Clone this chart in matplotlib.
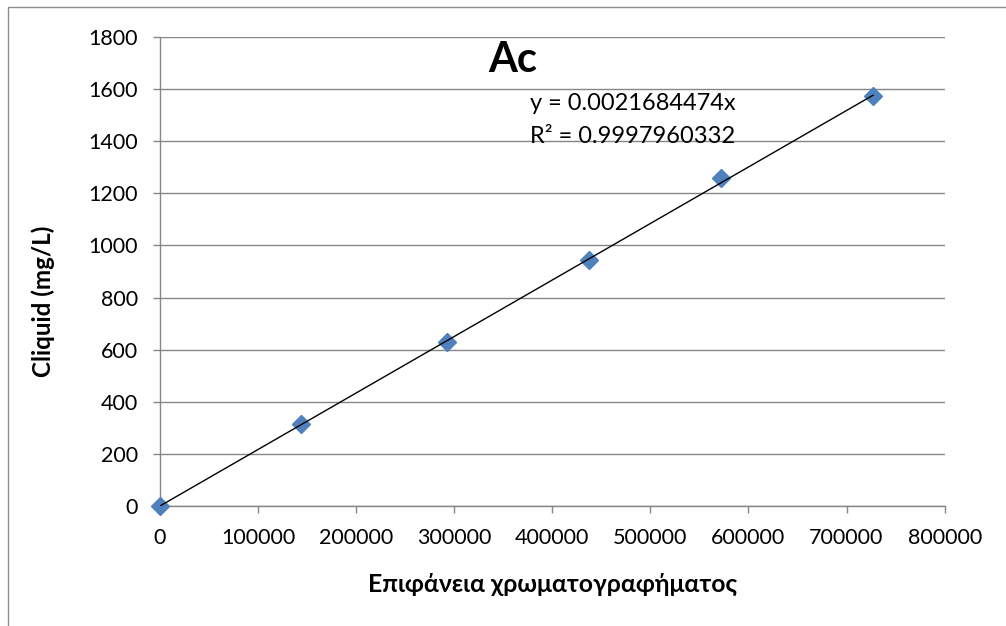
import matplotlib
matplotlib.use('Agg')
import matplotlib.pyplot as plt
from matplotlib.patches import Rectangle

# calibration points
area = [0, 144000, 293000, 437000, 572000, 727000]
conc = [0, 315, 630, 945, 1260, 1575]
slope = 0.0021684474
r2_text = "0.9997960332"

plt.rcParams['font.family'] = ['Lato', 'DejaVu Sans']

fig = plt.figure(figsize=(10.06, 6.26), dpi=100)
ax = fig.add_axes([0.159, 0.1917, 0.780, 0.7492])

# outer chart border (only left/top visible in the original)
fig.patches.append(Rectangle((0.008, -0.1), 1.2, 1.089, transform=fig.transFigure,
                             fill=False, edgecolor='#8c8c8c', linewidth=1.0))

ax.plot(area, conc, linestyle='none', marker='D', markersize=9.5,
        color='#4F81BD', zorder=3, clip_on=False)
fit_x = [0, max(area)]
ax.plot(fit_x, [slope * v for v in fit_x], color='black', linewidth=1.0, zorder=4)

ax.set_xlim(0, 800000)
ax.set_ylim(0, 1800)
ax.set_xticks(range(0, 800001, 100000))
ax.set_yticks(range(0, 1801, 200))
ax.tick_params(axis='both', labelsize=15.5, colors='#868686', labelcolor='black',
               length=5, width=1.0)
ax.tick_params(axis='x', pad=11)
ax.tick_params(axis='y', pad=11)

ax.grid(axis='y', color='#868686', linewidth=1.0)
ax.set_axisbelow(True)
for side in ['top', 'right']:
    ax.spines[side].set_visible(False)
for side in ['left', 'bottom']:
    ax.spines[side].set_color('#868686')
    ax.spines[side].set_linewidth(1.0)

ax.set_xlabel("Επιφάνεια χρωματογραφήματος", fontsize=17.8, fontweight='bold')
ax.set_ylabel("Cliquid (mg/L)", fontsize=17.4, fontweight='bold')
ax.xaxis.set_label_coords(0.5006, -0.168)
ax.xaxis.label.set_va('center')
ax.yaxis.set_label_coords(-0.149, 0.437)
ax.yaxis.label.set_va('center')

ax.text(0.45, 0.951, "Ac", transform=ax.transAxes, ha='center', va='center',
        fontsize=30, fontweight='bold')
ax.text(0.471, 0.859, f"y = {slope}x", transform=ax.transAxes, ha='left',
        va='center', fontsize=17)
ax.text(0.471, 0.787, f"R² = {r2_text}", transform=ax.transAxes, ha='left',
        va='center', fontsize=17)

fig.savefig('out.png', dpi=100)
